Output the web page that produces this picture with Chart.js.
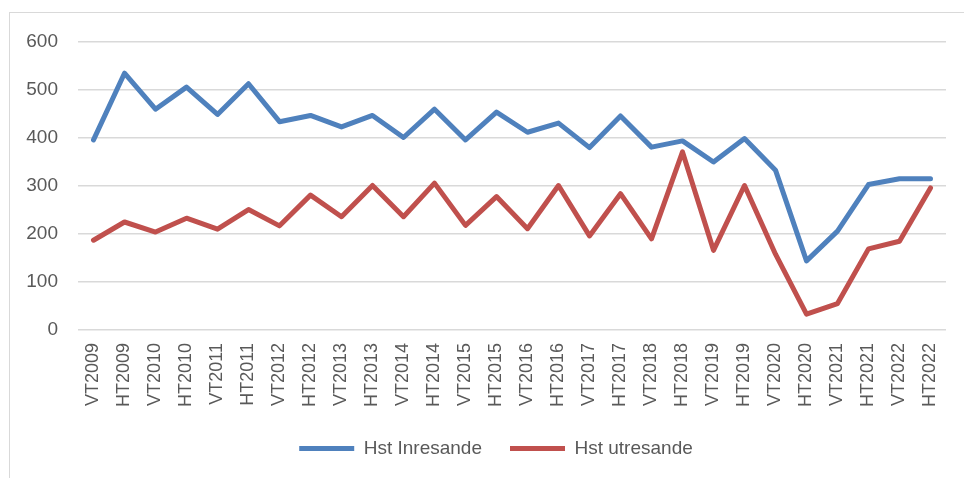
<!DOCTYPE html>
<html>
<head>
<meta charset="utf-8">
<script src="https://cdn.jsdelivr.net/npm/chart.js@4.4.0/dist/chart.umd.min.js"></script>
<style>
    body { margin: 0; background: #fff; }
    #wrap { position: relative; width: 964px; height: 478px; }
    #frame {
        position: absolute; left: 9px; top: 12px; right: 0; bottom: 0;
        border-left: 1.5px solid #d9d9d9; border-top: 1.5px solid #d9d9d9;
    }
    canvas { position: absolute; left: 0; top: 0; }
</style>
</head>
<body>
<div id="wrap">
    <div id="frame"></div>
    <canvas id="chart" width="964" height="478"></canvas>
</div>
<script>
// Terminer (VT = vårtermin, HT = hösttermin)
const terms = ['VT2009', 'HT2009', 'VT2010', 'HT2010', 'VT2011', 'HT2011', 'VT2012',
    'HT2012', 'VT2013', 'HT2013', 'VT2014', 'HT2014', 'VT2015', 'HT2015', 'VT2016',
    'HT2016', 'VT2017', 'HT2017', 'VT2018', 'HT2018', 'VT2019', 'HT2019', 'VT2020',
    'HT2020', 'VT2021', 'HT2021', 'VT2022', 'HT2022'];

const inresande = [396, 535, 460, 506, 449, 513, 434, 447, 423, 447, 401, 460, 396, 454,
    412, 431, 380, 446, 381, 394, 350, 399, 333, 144, 206, 303, 315, 315];

const utresande = [187, 225, 204, 233, 210, 251, 217, 281, 236, 301, 236, 306, 218, 278,
    211, 301, 196, 284, 190, 371, 166, 301, 158, 33, 55, 169, 185, 296];

const textColor = '#595959';
const gridColor = '#d9d9d9';

// Décaler la légende un peu vers la droite, comme dans l'original
const legendShift = {
    id: 'legendShift',
    afterLayout(chart) {
        chart.legend.left += 23;
        chart.legend.right += 23;
    }
};

function initChart() {
    const ctx = document.getElementById('chart');

    new Chart(ctx.getContext('2d'), {
        type: 'line',
        data: {
            labels: terms,
            datasets: [{
                label: 'Hst Inresande',
                data: inresande,
                borderColor: '#4f81bd',
                backgroundColor: '#4f81bd',
                borderWidth: 5,
                borderJoinStyle: 'round',
                borderCapStyle: 'round',
                pointRadius: 0,
                tension: 0
            }, {
                label: 'Hst utresande',
                data: utresande,
                borderColor: '#c0504d',
                backgroundColor: '#c0504d',
                borderWidth: 5,
                borderJoinStyle: 'round',
                borderCapStyle: 'round',
                pointRadius: 0,
                tension: 0
            }]
        },
        options: {
            responsive: false,
            animation: false,
            layout: {
                padding: { top: 42, right: 18, bottom: 10, left: 0 }
            },
            plugins: {
                legend: {
                    position: 'bottom',
                    labels: {
                        usePointStyle: true,
                        pointStyle: 'line',
                        pointStyleWidth: 55,
                        color: textColor,
                        padding: 28,
                        font: { family: 'Liberation Sans', size: 19 }
                    }
                },
                tooltip: { enabled: false }
            },
            scales: {
                x: {
                    offset: true,
                    grid: { display: false },
                    border: { display: false },
                    ticks: {
                        color: textColor,
                        minRotation: 90,
                        maxRotation: 90,
                        autoSkip: false,
                        padding: 5,
                        font: { family: 'Liberation Sans', size: 18 }
                    },
                    afterFit: scale => { scale.height = 81; }
                },
                y: {
                    min: 0,
                    max: 600,
                    grid: { color: gridColor, lineWidth: 1.5, drawTicks: false },
                    border: { display: false },
                    ticks: {
                        stepSize: 100,
                        color: textColor,
                        padding: 20,
                        font: { family: 'Liberation Sans', size: 19 }
                    },
                    afterFit: scale => { scale.width = 78; }
                }
            }
        },
        plugins: [legendShift]
    });
}

initChart();
</script>
</body>
</html>
